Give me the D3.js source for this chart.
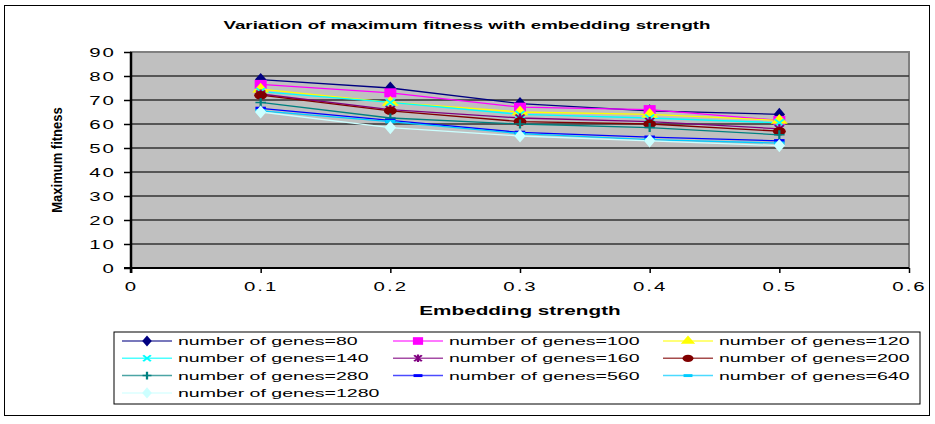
<!DOCTYPE html>
<html>
<head>
<meta charset="utf-8">
<script src="https://cdn.jsdelivr.net/npm/d3@7"></script>
<style>
  body { margin: 0; background: #fff; }
  text { font-family: "Liberation Sans", Arial, sans-serif; fill: #000; }
</style>
</head>
<body>
<svg width="935" height="424"></svg>
<script>
"use strict";

const strengths = [0.1, 0.2, 0.3, 0.4, 0.5];
const seriesNames = ["number of genes=80", "number of genes=100", "number of genes=120",
  "number of genes=140", "number of genes=160", "number of genes=200",
  "number of genes=280", "number of genes=560", "number of genes=640",
  "number of genes=1280"];
const genes80 = [78.5, 75, 68.5, 65.5, 64];
const genes100 = [76.5, 73, 67, 66, 61.5];
const genes120 = [74.5, 69, 65, 64, 61.5];
const genes140 = [73.5, 69, 64, 62.5, 60.5];
const genes160 = [72.5, 66, 62.5, 61, 58];
const genes200 = [72, 65.5, 61, 60, 57];
const genes280 = [69, 62.5, 60, 58.5, 55.5];
const genes560 = [66.5, 61.5, 56.5, 54.5, 53];
const genes640 = [65.5, 61, 56, 53.5, 52];
const genes1280 = [65, 58.5, 55, 53, 51];
const xTicks = [0, 0.1, 0.2, 0.3, 0.4, 0.5, 0.6];
const yTicks = [0, 10, 20, 30, 40, 50, 60, 70, 80, 90];

const allValues = [genes80, genes100, genes120, genes140, genes160, genes200,
  genes280, genes560, genes640, genes1280];
const colors = ["#000080", "#ff00ff", "#ffff00", "#00ffff", "#800080", "#800000",
  "#008080", "#0000ff", "#00ccff", "#ccffff"];
const shapes = ["diamond", "square", "triangle", "x", "star", "circle", "plus", "dash", "dash", "diamond"];

// the original chart is stretched sideways, text included
const stretch = 1.7;

const svg = d3.select("svg");

svg.append("rect")
  .attr("x", 4.5).attr("y", 5.5).attr("width", 925).attr("height", 410)
  .attr("fill", "none").attr("stroke", "#000").attr("stroke-width", 1);

const pLeft = 131, pRight = 909, pTop = 52, pBottom = 268;
const x = d3.scaleLinear().domain([0, 0.6]).range([pLeft, pRight]);
const y = d3.scaleLinear().domain([0, 90]).range([pBottom, pTop]);

svg.append("rect")
  .attr("x", pLeft).attr("y", pTop).attr("width", pRight - pLeft).attr("height", pBottom - pTop)
  .attr("fill", "#c0c0c0").attr("stroke", "#808080").attr("stroke-width", 2);

svg.append("g")
  .selectAll("line")
  .data(yTicks.filter(d => d > 0 && d < 90))
  .enter()
  .append("line")
  .attr("x1", pLeft).attr("x2", pRight)
  .attr("y1", d => y(d)).attr("y2", d => y(d))
  .attr("stroke", "#333").attr("stroke-width", 1.3);

const yAxis = svg.append("g")
  .attr("transform", `translate(${pLeft},0)`)
  .call(d3.axisLeft(y).tickValues(yTicks).tickSize(7).tickFormat(d3.format("d")));
const xAxis = svg.append("g")
  .attr("transform", `translate(0,${pBottom})`)
  .call(d3.axisBottom(x).tickValues(xTicks).tickSize(5).tickFormat(d => d === 0 ? "0" : d3.format(".1f")(d)));

[yAxis, xAxis].forEach(a => {
  a.select(".domain").attr("stroke-width", 0);
  a.selectAll(".tick line").attr("stroke", "#000").attr("stroke-width", 1.5);
  a.selectAll(".tick text")
    .attr("font-family", "Liberation Sans, Arial, sans-serif")
    .attr("font-size", 12).attr("letter-spacing", "1.2px").attr("fill", "#000");
});
yAxis.selectAll(".tick text")
  .attr("x", null)
  .attr("dy", "0.35em")
  .attr("text-anchor", "end")
  .attr("transform", `translate(-15,0) scale(${stretch},1)`);
xAxis.selectAll(".tick text")
  .attr("y", 14)
  .attr("dy", "0.71em")
  .attr("transform", `scale(${stretch},1)`);

yAxis.append("line").attr("x1", 0).attr("x2", 0).attr("y1", pTop).attr("y2", pBottom + 5)
  .attr("stroke", "#000").attr("stroke-width", 2.5);
xAxis.append("line").attr("x1", -7).attr("x2", pRight - pLeft).attr("y1", 0).attr("y2", 0)
  .attr("transform", `translate(${pLeft},0)`)
  .attr("stroke", "#000").attr("stroke-width", 2);

// titles
svg.append("text")
  .attr("transform", `translate(467,29) scale(${stretch},1)`)
  .attr("text-anchor", "middle")
  .attr("font-size", 11).attr("font-weight", "bold")
  .text("Variation of maximum fitness with embedding strength");

svg.append("text")
  .attr("transform", `translate(${(pLeft + pRight) / 2},315) scale(${stretch},1)`)
  .attr("text-anchor", "middle")
  .attr("font-size", 12.2).attr("font-weight", "bold")
  .text("Embedding strength");

svg.append("text")
  .attr("transform", `translate(62,${(pTop + pBottom) / 2}) scale(1.15,1) rotate(-90)`)
  .attr("text-anchor", "middle")
  .attr("font-size", 13).attr("font-weight", "bold")
  .text("Maximum fitness");

function marker(g, shape, color, s) {
  if (shape === "diamond") {
    g.append("path").attr("d", d3.symbol(d3.symbolDiamond, 50 * s * s)()).attr("fill", color);
  } else if (shape === "square") {
    g.append("rect").attr("x", -4 * s).attr("y", -4.5 * s).attr("width", 8 * s).attr("height", 9 * s).attr("fill", color);
  } else if (shape === "triangle") {
    g.append("path").attr("d", d3.symbol(d3.symbolTriangle, 55 * s * s)()).attr("fill", color);
  } else if (shape === "x") {
    g.append("path").attr("d", `M${-3 * s},${-3.5 * s}L${3 * s},${3.5 * s}M${-3 * s},${3.5 * s}L${3 * s},${-3.5 * s}`)
      .attr("stroke", color).attr("stroke-width", 1.5).attr("fill", "none");
  } else if (shape === "star") {
    g.append("path").attr("d", `M${-3 * s},${-3.5 * s}L${3 * s},${3.5 * s}M${-3 * s},${3.5 * s}L${3 * s},${-3.5 * s}M0,${-4.5 * s}V${4.5 * s}`)
      .attr("stroke", color).attr("stroke-width", 1.5).attr("fill", "none");
  } else if (shape === "circle") {
    g.append("circle").attr("r", 4.3 * s).attr("fill", color);
  } else if (shape === "plus") {
    g.append("path").attr("d", `M${-3.5 * s},0H${3.5 * s}M0,${-4.5 * s}V${4.5 * s}`)
      .attr("stroke", color).attr("stroke-width", 1.5).attr("fill", "none");
  } else if (shape === "dash") {
    g.append("rect").attr("x", -3.5 * s).attr("y", -1.7 * s).attr("width", 7 * s).attr("height", 3.4 * s).attr("fill", color);
  }
}

const line = d3.line().x((d, i) => x(strengths[i])).y(d => y(d));

allValues.forEach((vals, k) => {
  svg.append("path")
    .datum(vals)
    .attr("d", line)
    .attr("fill", "none")
    .attr("stroke", colors[k])
    .attr("stroke-width", 1.3);
});
allValues.forEach((vals, k) => {
  vals.forEach((v, i) => {
    const g = svg.append("g").attr("transform", `translate(${x(strengths[i])},${y(v)}) scale(1.5,1)`);
    marker(g, shapes[k], colors[k], 1);
  });
});

// legend
svg.append("rect")
  .attr("x", 114).attr("y", 332).attr("width", 806).attr("height", 72)
  .attr("fill", "#fff").attr("stroke", "#000").attr("stroke-width", 1);

const colX = [122, 393, 663];
seriesNames.forEach((name, k) => {
  const cx = colX[k % 3];
  const cy = 341 + Math.floor(k / 3) * 17.3;
  const g = svg.append("g").attr("transform", `translate(${cx},${cy})`);
  g.append("line").attr("x1", 0).attr("x2", 50).attr("y1", 0).attr("y2", 0)
    .attr("stroke", colors[k]).attr("stroke-width", 1.5).attr("opacity", 0.7);
  const mg = g.append("g").attr("transform", "translate(25,0) scale(1.5,1)");
  marker(mg, shapes[k], colors[k], 0.85);
  g.append("text")
    .attr("transform", `translate(56,4) scale(${stretch},1)`)
    .attr("font-size", 11.5)
    .text(name);
});
</script>
</body>
</html>
